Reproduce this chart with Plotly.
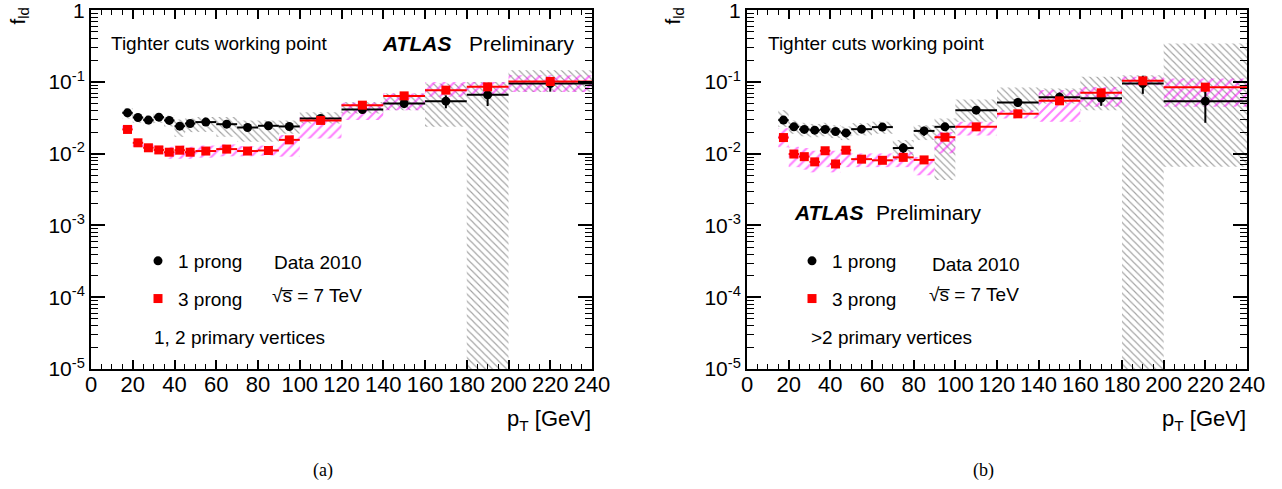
import plotly.graph_objects as go

# ---------------- data ----------------
edges = [15, 20, 25, 30, 35, 40, 45, 50, 60, 70, 80, 90, 100, 120, 140, 160, 180, 200, 240]

# panel (a): 1, 2 primary vertices
one_a = [0.0371, 0.032, 0.0294, 0.0323, 0.0291, 0.0242, 0.0264, 0.0276, 0.0258, 0.0232, 0.0245, 0.024,
         0.031, 0.0414, 0.0502, 0.054, 0.0662, 0.0953]
err1_a = [0.002, 0.0015, 0.0015, 0.0015, 0.0015, 0.0013, 0.0013, 0.0012, 0.0012, 0.0012, 0.0013, 0.0014,
          0.002, 0.005, 0.007, 0.011, 0.02, 0.022]
lo1_a = [0.031, 0.027, 0.025, 0.027, 0.024, 0.0172, 0.020, 0.0202, 0.0172, 0.0147, 0.0147, 0.019,
         0.0263, 0.0363, 0.0405, 0.0237, 1e-5, 0.0727]
hi1_a = [0.043, 0.037, 0.034, 0.037, 0.034, 0.030, 0.031, 0.0325, 0.0325, 0.029, 0.029, 0.029,
         0.038, 0.0526, 0.069, 0.095, 0.10, 0.146]
three_a = [0.0218, 0.0142, 0.0121, 0.0113, 0.0105, 0.0112, 0.0105, 0.0109, 0.0116, 0.0109, 0.0111, 0.0156,
           0.0291, 0.0475, 0.064, 0.0769, 0.0855, 0.1016]
err3_a = [0.0012, 0.0008, 0.0007, 0.0007, 0.0006, 0.0006, 0.0006, 0.0006, 0.0007, 0.0007, 0.0008, 0.0012,
          0.002, 0.004, 0.006, 0.008, 0.01, 0.012]
lo3_a = [0.019, 0.0125, 0.0107, 0.010, 0.0085, 0.0085, 0.0085, 0.0088, 0.0092, 0.0092, 0.0094, 0.0091,
         0.0163, 0.0294, 0.0405, 0.062, 0.065, 0.0727]
hi3_a = [0.025, 0.016, 0.0136, 0.0127, 0.0125, 0.013, 0.0125, 0.013, 0.0135, 0.0128, 0.013, 0.0182,
         0.0325, 0.0513, 0.069, 0.10, 0.10, 0.124]

# panel (b): >2 primary vertices
one_b = [0.0294, 0.0237, 0.0218, 0.0213, 0.0218, 0.0204, 0.0195, 0.022, 0.0235, 0.012, 0.0208, 0.0237,
         0.0405, 0.0518, 0.0614, 0.0595, 0.0953, 0.054]
err1_b = [0.002, 0.0015, 0.0015, 0.0015, 0.0015, 0.0015, 0.0015, 0.0015, 0.0015, 0.002, 0.003, 0.003,
          0.004, 0.007, 0.01, 0.013, 0.027, 0.027]
lo1_b = [0.0237, 0.019, 0.0175, 0.017, 0.0175, 0.0165, 0.0155, 0.018, 0.019, 0.0082, 0.0155, 0.0043,
         0.028, 0.0384, 0.05, 0.0405, 1e-5, 0.0066]
hi1_b = [0.0405, 0.029, 0.027, 0.026, 0.027, 0.025, 0.024, 0.0266, 0.028, 0.0155, 0.025, 0.031,
         0.057, 0.0837, 0.081, 0.118, 0.124, 0.343]
three_b = [0.0168, 0.0099, 0.0091, 0.0077, 0.011, 0.0072, 0.0112, 0.0084, 0.0081, 0.0089, 0.0082, 0.017,
           0.0237, 0.036, 0.0546, 0.0706, 0.1037, 0.0847]
err3_b = [0.0012, 0.0009, 0.0008, 0.0008, 0.0009, 0.0008, 0.0009, 0.0008, 0.0008, 0.0009, 0.0009, 0.002,
          0.003, 0.004, 0.006, 0.009, 0.012, 0.012]
lo3_b = [0.0123, 0.0065, 0.006, 0.0055, 0.0065, 0.0055, 0.0065, 0.0065, 0.0065, 0.0065, 0.005, 0.0101,
         0.018, 0.031, 0.028, 0.045, 0.09, 0.045]
hi3_b = [0.0227, 0.0125, 0.012, 0.011, 0.0125, 0.011, 0.0125, 0.0101, 0.0101, 0.0105, 0.009, 0.0201,
         0.028, 0.04, 0.077, 0.085, 0.118, 0.112]

x_ticks = list(range(0, 241, 20))
y_ticks = [1e-5, 1e-4, 1e-3, 1e-2, 1e-1, 1]
y_ticktext = ["10<sup>-5</sup>", "10<sup>-4</sup>", "10<sup>-3</sup>", "10<sup>-2</sup>", "10<sup>-1</sup>", "1"]

# ---------------- figure ----------------
W, H = 1282, 489
SANS = "Liberation Sans, Arial, sans-serif"
SERIF = "Liberation Serif, Times New Roman, serif"

centers = [(a + b) / 2 for a, b in zip(edges[:-1], edges[1:])]
halfw = [(b - a) / 2 for a, b in zip(edges[:-1], edges[1:])]
widths = [(b - a) for a, b in zip(edges[:-1], edges[1:])]

def px(x):
    return x / W

def py(y):
    return 1 - y / H

fig = go.Figure()

panels = [
    dict(xa="x", ya="y", leg="legend", one=one_a, e1=err1_a, lo1=lo1_a, hi1=hi1_a,
         three=three_a, e3=err3_a, lo3=lo3_a, hi3=hi3_a),
    dict(xa="x2", ya="y2", leg="legend2", one=one_b, e1=err1_b, lo1=lo1_b, hi1=hi1_b,
         three=three_b, e3=err3_b, lo3=lo3_b, hi3=hi3_b),
]

for p in panels:
    fig.add_trace(go.Bar(
        x=centers, base=p["lo1"], y=[h - l for h, l in zip(p["hi1"], p["lo1"])], width=widths,
        marker=dict(color="rgba(0,0,0,0)", line=dict(width=0),
                    pattern=dict(shape="\\", fgcolor="#444444", bgcolor="rgba(0,0,0,0)",
                                 size=5, solidity=0.22, fillmode="overlay")),
        xaxis=p["xa"], yaxis=p["ya"], showlegend=False, hoverinfo="skip"))
    fig.add_trace(go.Bar(
        x=centers, base=p["lo3"], y=[h - l for h, l in zip(p["hi3"], p["lo3"])], width=widths,
        marker=dict(color="rgba(0,0,0,0)", line=dict(width=0),
                    pattern=dict(shape="/", fgcolor="#ff00ff", bgcolor="rgba(0,0,0,0)",
                                 size=7, solidity=0.3, fillmode="overlay")),
        xaxis=p["xa"], yaxis=p["ya"], showlegend=False, hoverinfo="skip"))
    fig.add_trace(go.Scatter(
        x=centers, y=p["one"], mode="markers", name="1 prong",
        marker=dict(symbol="circle", size=9, color="black"),
        error_x=dict(type="data", array=halfw, width=0, thickness=2, color="black"),
        error_y=dict(type="data", array=p["e1"], width=0, thickness=2, color="black"),
        xaxis=p["xa"], yaxis=p["ya"], legend=p["leg"], legendgroup="one"))
    fig.add_trace(go.Scatter(
        x=centers, y=p["three"], mode="markers", name="3 prong",
        marker=dict(symbol="square", size=9, color="#ff0000"),
        error_x=dict(type="data", array=halfw, width=0, thickness=2, color="#ff0000"),
        error_y=dict(type="data", array=p["e3"], width=0, thickness=2, color="#ff0000"),
        xaxis=p["xa"], yaxis=p["ya"], legend=p["leg"], legendgroup="three"))

def xaxis_cfg(dom, anchor):
    return dict(domain=dom, anchor=anchor, range=[0, 240], showgrid=False, zeroline=False,
                showline=True, linecolor="black", linewidth=2, mirror="allticks",
                ticks="inside", tickvals=x_ticks, ticklen=9, tickwidth=1.5, tickcolor="black",
                minor=dict(tickmode="linear", tick0=0, dtick=5, ticks="inside", ticklen=5,
                           tickwidth=1, tickcolor="black", showgrid=False),
                tickfont=dict(family=SANS, size=22, color="black"), fixedrange=True,
                automargin=False, ticklabelstandoff=-5, ticklabeloverflow="allow")

minor_y = [m * 10.0 ** e for e in range(-5, 0) for m in range(2, 10)]

def yaxis_cfg(anchor):
    return dict(domain=[py(369), py(10)], anchor=anchor, type="log", range=[-5, 0.003],
                showgrid=False, zeroline=False, showline=True, linecolor="black", linewidth=2,
                mirror="allticks", ticks="inside", tickvals=y_ticks, ticktext=y_ticktext,
                ticklen=14, tickwidth=1.5, tickcolor="black",
                minor=dict(tickmode="array", tickvals=minor_y, ticks="inside", ticklen=7,
                           tickwidth=1, tickcolor="black", showgrid=False),
                tickfont=dict(family=SANS, size=21, color="black"), fixedrange=True,
                automargin=False, ticklabeloverflow="allow")

legend_common = dict(font=dict(family=SANS, size=19, color="black"), bgcolor="rgba(0,0,0,0)",
                     borderwidth=0, traceorder="grouped", tracegroupgap=10,
                     xanchor="left", yanchor="top", itemwidth=30)

fig.update_layout(
    width=W, height=H, margin=dict(l=0, r=0, t=0, b=0, autoexpand=False),
    paper_bgcolor="white", plot_bgcolor="white", barmode="overlay",
    xaxis=xaxis_cfg([px(91), px(592)], "y"),
    yaxis=yaxis_cfg("x"),
    xaxis2=xaxis_cfg([px(747), px(1247)], "y2"),
    yaxis2=yaxis_cfg("x2"),
    legend=dict(x=px(138), y=py(242), **legend_common),
    legend2=dict(x=px(792), y=py(242), **legend_common),
    showlegend=True,
)

def ann(text, x, y, size=19, xanchor="left", yanchor="middle", family=SANS, angle=0):
    fig.add_annotation(text=text, x=px(x), y=py(y), xref="paper", yref="paper",
                       xanchor=xanchor, yanchor=yanchor, showarrow=False, textangle=angle,
                       font=dict(family=family, size=size, color="black"))

# panel (a) texts
ann("Tighter cuts working point", 109, 44)
ann("<b><i>ATLAS</i></b>", 380, 44, size=21)
ann("Preliminary", 467, 44, size=21)
ann("Data 2010", 272, 262)
ann("\u221as\u0305 = 7 TeV", 270, 295)
ann("1, 2 primary vertices", 152, 337)
ann("p<sub>T</sub> [GeV]", 593, 420, size=22, xanchor="right")
ann("f<sub>ld</sub>", 18, 6, size=21, xanchor="center", yanchor="top", angle=-90)
ann("(a)", 323, 470, size=18, xanchor="center", family=SERIF)

# panel (b) texts
ann("Tighter cuts working point", 766, 44)
ann("<b><i>ATLAS</i></b>", 792, 212, size=21)
ann("Preliminary", 874, 212, size=21)
ann("Data 2010", 930, 264)
ann("\u221as\u0305 = 7 TeV", 927, 294)
ann(">2 primary vertices", 809, 337)
ann("p<sub>T</sub> [GeV]", 1248, 420, size=22, xanchor="right")
ann("f<sub>ld</sub>", 673, 6, size=21, xanchor="center", yanchor="top", angle=-90)
ann("(b)", 983, 470, size=18, xanchor="center", family=SERIF)

fig.write_html("out.html")
